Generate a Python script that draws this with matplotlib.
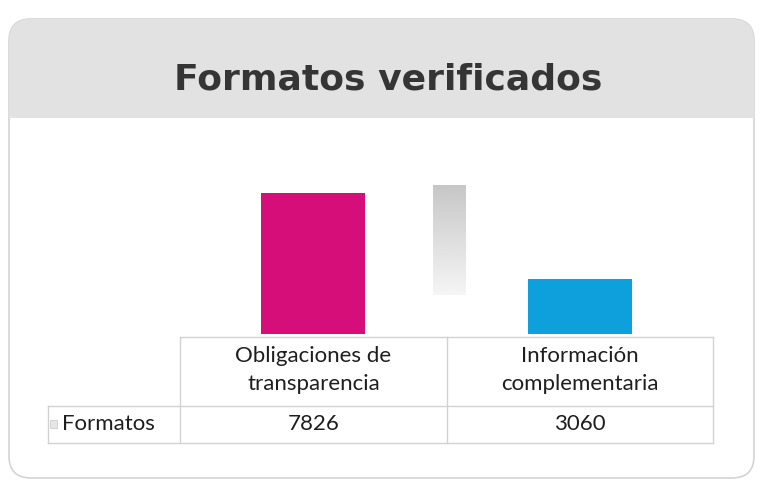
"""
Formatos verificados: bar chart with data table underneath
"""

import numpy as np
import matplotlib
from matplotlib import pyplot as plt
from matplotlib.patches import FancyBboxPatch, Rectangle

categories = ['Obligaciones de\ntransparencia', 'Información\ncomplementaria']
series_name = 'Formatos'
values = [7826, 3060]
bar_colors = ['#D60E7A', '#0DA0DD']
title = 'Formatos verificados'

W, H = 760, 486


def px(x, y):
    # pixel (top-left origin) -> figure fraction
    return x / W, 1 - y / H


def main():
    matplotlib.rcParams['font.family'] = ['Lato', 'DejaVu Sans']
    fig = plt.figure(figsize=(W / 100, H / 100), dpi=100)
    fig.patch.set_facecolor('white')

    # panel background and title band
    bg = fig.add_axes([0, 0, 1, 1], zorder=-5)
    bg.set_xlim(0, W)
    bg.set_ylim(H, 0)
    bg.axis('off')
    panel = FancyBboxPatch((9, 19), 745, 459, boxstyle='round,pad=0,rounding_size=22',
                           facecolor='white', edgecolor='#d4d4d4', linewidth=1.2)
    bg.add_patch(panel)
    band = FancyBboxPatch((9, 19), 745, 99, boxstyle='round,pad=0,rounding_size=22',
                          facecolor='#e2e2e2', edgecolor='none')
    bg.add_patch(band)
    bg.add_patch(Rectangle((9, 80), 745, 38, facecolor='#e2e2e2', edgecolor='none'))
    bg.text(388, 79, title, ha='center', va='center', fontsize=26, fontweight='bold',
            color='#353535', family=['DejaVu Sans'])

    # faint grey gradient strip between the bars
    grad = np.linspace(0.78, 0.96, 64).reshape(-1, 1)
    bg.imshow(grad, cmap='gray', vmin=0, vmax=1, aspect='auto',
              extent=(433, 466, 295, 185), zorder=1)

    # bar axes
    x0, y0 = px(180, 334)
    x1, y1 = px(713, 172)
    ax = fig.add_axes([x0, y0, x1 - x0, y1 - y0])
    x = np.arange(len(values))
    ax.bar(x, values, width=0.39, color=bar_colors, zorder=3)
    ax.set_xlim(-0.5, len(values) - 0.5)
    ax.set_ylim(0, 9000)
    ax.axis('off')

    # data table drawn in pixel space
    grid = '#d2d2d2'
    lw = 1.0
    col_edges = [180, 447, 713]
    bg.plot([180, 713], [337, 337], color=grid, lw=lw)
    bg.plot([48, 713], [406, 406], color=grid, lw=lw)
    bg.plot([48, 713], [443, 443], color=grid, lw=lw)
    for ce in col_edges:
        bg.plot([ce, ce], [337, 443], color=grid, lw=lw)
    bg.plot([48, 48], [406, 443], color=grid, lw=lw)

    for i, (cat, val) in enumerate(zip(categories, values)):
        cx = (col_edges[i] + col_edges[i + 1]) / 2
        bg.text(cx, 370, cat, ha='center', va='center', fontsize=16,
                color='#1e1e1e', linespacing=1.5)
        bg.text(cx, 424, f'{val}', ha='center', va='center', fontsize=16,
                color='#1e1e1e')

    bg.add_patch(Rectangle((50, 420), 7, 8, facecolor='#e6e6e6', edgecolor='#cfcfcf', lw=0.6))
    bg.text(62, 424, series_name, ha='left', va='center', fontsize=16, color='#1e1e1e')

    plt.savefig('out.png', dpi=100)


if __name__ == "__main__":
    main()
